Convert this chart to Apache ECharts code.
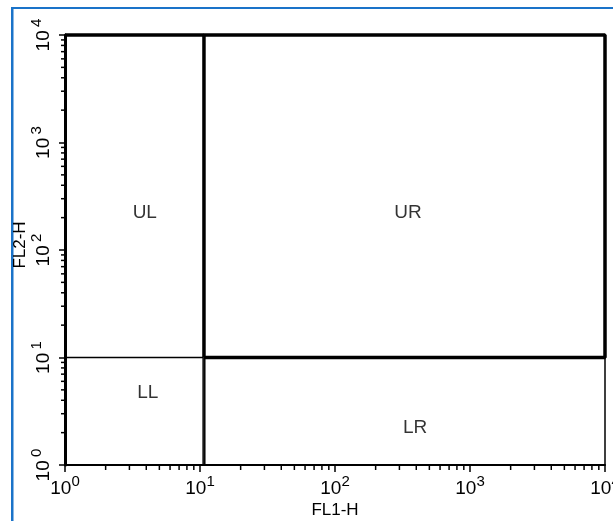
<!DOCTYPE html>
<html>
<head>
<meta charset="utf-8">
<script src="https://cdn.jsdelivr.net/npm/echarts@6/dist/echarts.min.js"></script>
<style>
html,body{margin:0;padding:0;background:#fff;}
#c{width:613px;height:521px;}
</style>
</head>
<body>
<div id="c"></div>
<script>
// ---- data ----
const axisMin = 1;
const axisMax = 10000;
const minorMultipliers = [2, 3, 4, 5, 6, 7, 8, 9];
const decades = [1, 10, 100, 1000];
const xAxisTitle = 'FL1-H';
const yAxisTitle = 'FL2-H';
// quadrant gates (data coordinates)
const gateUR = [[10.7, 10], [10.7, 10000], [10000, 10000], [10000, 10], [10.7, 10]];
const gateULTop = [[1, 10000], [10.7, 10000]];
const gateLL = [[1, 10], [10.55, 10], [10.55, 1]];
const gateLR = [[10.85, 1], [10.85, 10], [10000, 10], [10000, 1]];
// quadrant names and their label positions
const quadNames = ['UL', 'UR', 'LL', 'LR'];
const quadX = [3.9, 347, 4.1, 392];
const quadY = [221, 221, 4.7, 2.2];

const minorTicks = [];
decades.forEach(d => minorMultipliers.forEach(m => minorTicks.push(d * m)));

const FONT = '"Liberation Sans", Arial, sans-serif';
const chart = echarts.init(document.getElementById('c'));

function expOf(v) { return Math.round(Math.log10(v)); }

const option = {
  backgroundColor: '#fff',
  animation: false,
  grid: { left: 65, top: 35, width: 540, height: 430, containLabel: false, outerBoundsMode: 'none' },
  xAxis: {
    type: 'log', logBase: 10, min: axisMin, max: axisMax,
    name: xAxisTitle, nameLocation: 'middle', nameGap: 37, nameMoveOverlap: false,
    nameTextStyle: { fontFamily: FONT, fontSize: 17, color: '#000' },
    axisLine: { show: true, lineStyle: { color: '#000', width: 2 } },
    axisTick: { show: true, inside: false, length: 7, lineStyle: { color: '#000', width: 1.5 } },
    splitLine: { show: false },
    axisLabel: {
      margin: 9,
      formatter: v => '{b|10}{s|' + expOf(v) + '}',
      rich: {
        b: { fontFamily: FONT, fontSize: 19, color: '#000', lineHeight: 24, verticalAlign: 'bottom' },
        s: { fontFamily: FONT, fontSize: 15, color: '#000', lineHeight: 24, verticalAlign: 'top' }
      }
    }
  },
  yAxis: {
    type: 'log', logBase: 10, min: axisMin, max: axisMax,
    name: yAxisTitle, nameLocation: 'middle', nameGap: 36, nameMoveOverlap: false,
    nameTextStyle: { fontFamily: FONT, fontSize: 17, color: '#000', padding: [0, 0, 0, 10] },
    axisLine: { show: true, lineStyle: { color: '#000', width: 3 } },
    axisTick: { show: true, inside: false, length: 6, lineStyle: { color: '#000', width: 1.5 } },
    splitLine: { show: false },
    axisLabel: {
      margin: 12, rotate: 90,
      formatter: v => '{b|10} {s|' + expOf(v) + '}',
      rich: {
        b: { fontFamily: FONT, fontSize: 19, color: '#000', lineHeight: 24, verticalAlign: 'bottom' },
        s: { fontFamily: FONT, fontSize: 15, color: '#000', lineHeight: 24, verticalAlign: 'top' }
      }
    }
  },
  series: [
    {
      type: 'custom', clip: false, silent: true,
      data: minorTicks,
      renderItem: (params, api) => {
        const p = api.coord([api.value(0), axisMin]);
        return { type: 'line', shape: { x1: p[0], y1: p[1], x2: p[0], y2: p[1] + 5 }, style: { stroke: '#000', lineWidth: 1.5 } };
      }
    },
    {
      type: 'custom', clip: false, silent: true,
      data: minorTicks,
      renderItem: (params, api) => {
        const p = api.coord([axisMin, api.value(0)]);
        return { type: 'line', shape: { x1: p[0] - 4, y1: p[1], x2: p[0], y2: p[1] }, style: { stroke: '#000', lineWidth: 1.5 } };
      }
    },
    { type: 'line', data: gateUR, symbol: 'none', clip: false, lineStyle: { color: '#000', width: 3.5 }, z: 5 },
    { type: 'line', data: gateULTop, symbol: 'none', clip: false, lineStyle: { color: '#000', width: 3.5 }, z: 5 },
    { type: 'line', data: gateLL, symbol: 'none', clip: false, lineStyle: { color: '#000', width: 1.5 }, z: 4 },
    { type: 'line', data: gateLR, symbol: 'none', clip: false, lineStyle: { color: '#000', width: 1.5 }, z: 4 },
    {
      type: 'scatter', symbolSize: 1, itemStyle: { color: 'rgba(0,0,0,0)' },
      data: quadNames.map((n, i) => [quadX[i], quadY[i], n]),
      label: { show: true, position: 'inside', formatter: p => p.value[2], fontFamily: FONT, fontSize: 19, color: '#000' }
    }
  ],
  graphic: [
    { type: 'rect', shape: { x: 11, y: 7, width: 2.5, height: 514 }, style: { fill: '#1a73c9' }, silent: true },
    { type: 'rect', shape: { x: 11, y: 7, width: 602, height: 2 }, style: { fill: '#1a73c9' }, silent: true }
  ]
};
chart.setOption(option);
</script>
</body>
</html>
